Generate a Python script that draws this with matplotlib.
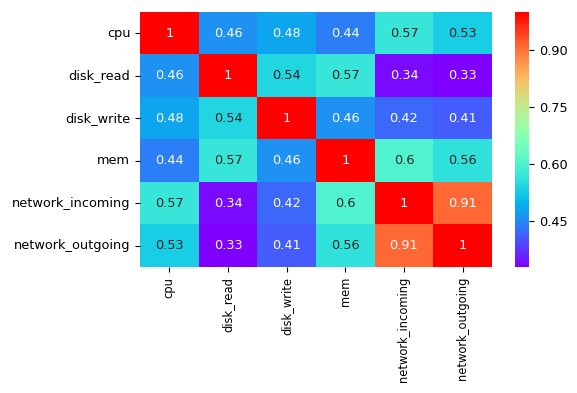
import numpy as np
import pandas as pd
import matplotlib
matplotlib.use('Agg')
import matplotlib.pyplot as plt
import seaborn as sns

labels = ['cpu', 'disk_read', 'disk_write', 'mem',
          'network_incoming', 'network_outgoing']

cpu = [1, 0.46, 0.48, 0.44, 0.57, 0.53]
disk_read = [0.46, 1, 0.54, 0.57, 0.34, 0.33]
disk_write = [0.48, 0.54, 1, 0.46, 0.42, 0.41]
mem = [0.44, 0.57, 0.46, 1, 0.6, 0.56]
network_incoming = [0.57, 0.34, 0.42, 0.6, 1, 0.91]
network_outgoing = [0.53, 0.33, 0.41, 0.56, 0.91, 1]

corr = pd.DataFrame([cpu, disk_read, disk_write, mem,
                     network_incoming, network_outgoing],
                    index=labels, columns=labels)

plt.rcParams['font.size'] = 9.3

fig = plt.figure(figsize=(5.77, 3.93), dpi=100)
ax = fig.add_axes([0.2426, 0.3206, 0.610, 0.649])
cax = fig.add_axes([0.8925, 0.3206, 0.0243, 0.649])

sns.heatmap(corr, annot=True, cmap='rainbow', ax=ax, cbar_ax=cax)
ax.tick_params(axis='x', labelsize=8.3)
cax.set_yticks([0.45, 0.60, 0.75, 0.90])
cax.set_yticklabels(['0.45', '0.60', '0.75', '0.90'])

fig.savefig('out.png', dpi=100)
